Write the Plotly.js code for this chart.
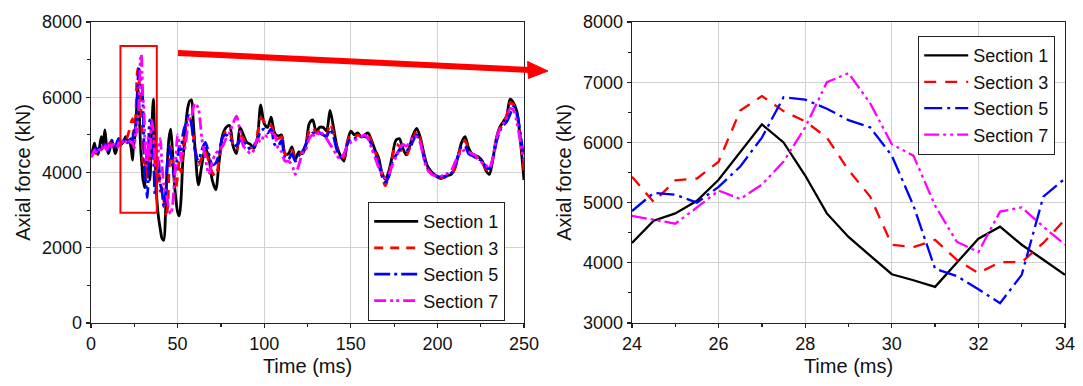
<!DOCTYPE html>
<html>
<head>
<meta charset="utf-8">
<script src="https://cdn.plot.ly/plotly-3.0.1.min.js"></script>
<style>
html,body{margin:0;padding:0;background:#fff;}
#chart{width:1083px;height:386px;}
</style>
</head>
<body>
<div id="chart"></div>
<script>
// ---------- DATA ----------
const seriesNames = ["Section 1", "Section 3", "Section 5", "Section 7"];

// 0-23 ms
const tPre = [0,1,2,3,4,5,6,7,8,9,10,11,12,13,14,15,16,17,18,19,20,21,22,23];
const s1Pre = [4450,4600,4780,4550,4480,4700,4950,4750,5130,4700,4500,4650,4860,4700,4500,4650,4900,4800,4770,4850,4950,4800,4850,4700];
const s3Pre = [4420,4480,4550,4500,4580,4650,4600,4700,4750,4650,4700,4800,4750,4700,4800,4850,4780,4750,4820,4900,4850,4950,5100,5300];
const s5Pre = [4500,4550,4600,4650,4550,4700,4650,4800,4700,4750,4600,4700,4850,4750,4700,4800,4900,4750,4800,4850,4900,4800,4850,4900];
const s7Pre = [4400,4500,4600,4550,4650,4600,4700,4650,4750,4600,4700,4800,4650,4750,4700,4650,4800,4700,4850,4750,4800,4900,4850,4800];

// 24-34 ms (zoomed window)
const tZoom = [24,24.5,25,25.5,26,26.5,27,27.5,28,28.5,29,29.5,30,30.5,31,31.5,32,32.5,33,33.5,34];
const s1Zoom = [4330,4700,4820,5030,5380,5850,6300,6000,5450,4820,4430,4120,3810,3710,3600,4000,4400,4600,4300,4050,3800];
const s3Zoom = [5430,5010,5370,5400,5680,6530,6770,6520,6350,6080,5540,5100,4300,4260,4380,4050,3830,4010,4010,4330,4720];
const s5Zoom = [4860,5160,5130,5000,5260,5600,6080,6750,6710,6560,6370,6250,5780,4950,3900,3780,3560,3330,3800,5100,5400];
const s7Zoom = [4780,4720,4650,4920,5200,5060,5300,5680,6250,7000,7150,6650,5970,5780,4950,4350,4180,4850,4920,4600,4300];

// 35-250 ms
const tPost = [35,36,37,38,39,40,41,42,43,44,45,46,47,48,49,50,51,52,53,54,55,56,57,58,59,60,
  62,64,66,68,70,72,74,76,78,80,
  82,84,86,88,90,92,94,96,98,100,
  102,104,106,108,110,112,114,116,118,120,
  122,124,126,128,130,132,134,136,138,140,
  142,144,146,148,150,152,154,156,158,160,
  162,164,166,168,170,172,174,176,178,180,
  182,184,186,188,190,192,194,196,198,200,
  202,204,206,208,210,212,214,216,218,220,
  222,224,226,228,230,232,234,236,238,240,
  242,244,246,248,250];
const s1Post = [5000,5950,4500,3300,2800,2500,2250,2200,2900,4200,4900,5150,4600,3800,3300,2950,2850,3300,4300,4800,5400,5750,5900,5930,5400,4700,
  3670,4200,4650,4400,3800,3540,4300,5000,5200,5250,
  4700,4500,5200,5000,4800,4750,4640,4900,5800,5300,
  5200,5470,5050,4970,5000,4500,4500,4680,4350,4550,
  4500,4700,5300,5400,5100,5200,5200,5100,5650,5200,
  4700,4450,4300,4800,5100,5000,5050,4950,5000,5050,
  4850,4600,4400,4000,3820,4050,4450,4850,4900,4650,
  4470,4700,5000,5170,4950,4550,4200,4050,3950,3880,
  3840,3870,3920,3950,4100,4450,4800,4950,4650,4500,
  4450,4400,4300,4050,3950,4350,4900,5200,5350,5500,
  5950,5850,5600,4800,3800];
const s3Post = [5200,5000,4200,3700,4300,3500,3600,3300,2900,3000,4000,4700,4400,3900,3600,3900,4300,4000,4600,5000,5300,5500,5450,5300,5000,4700,
  4200,4400,4550,4300,4000,3900,4350,4900,5100,5050,
  4750,4600,5000,4900,4700,4650,4700,5000,5450,5350,
  5200,5250,5000,4900,4950,4500,4450,4600,4400,4500,
  4550,4700,5100,5200,5050,5100,5100,5000,5300,5050,
  4650,4450,4400,4800,5000,4950,5000,4950,4950,5000,
  4800,4550,4300,3900,3650,3950,4400,4750,4700,4500,
  4450,4650,4900,5100,4900,4500,4150,4000,3920,3870,
  3850,3880,3920,3950,4100,4400,4750,4850,4600,4500,
  4400,4350,4250,4100,4050,4350,4850,5150,5300,5500,
  5850,5800,5500,4900,4050];
const s5Post = [5300,4600,3400,3800,4300,3700,3500,3100,3400,4200,4700,4500,4200,3900,4200,4400,4700,4600,5000,5200,5300,5500,5500,5300,4900,4600,
  4300,4600,4800,4500,4200,4250,4500,4950,5000,4900,
  4800,4700,4850,4800,4750,4600,4700,4850,5100,5150,
  5050,5150,4750,4700,4850,4400,4350,4500,4300,4450,
  4550,4750,4950,5050,5000,5050,5000,4950,5150,4950,
  4600,4400,4450,4750,4900,4900,4950,4950,4950,4900,
  4750,4500,4250,3900,3750,3900,4300,4450,4600,4700,
  4600,4650,4850,5000,4850,4450,4150,4050,3950,3900,
  3880,3900,3930,3980,4150,4450,4700,4700,4500,4450,
  4400,4350,4300,4150,4100,4350,4800,5100,5250,5350,
  5550,5750,5550,5000,4300];
const s7Post = [5400,5100,4300,4000,4600,4900,4200,3700,3500,3300,3000,2900,3100,3700,4400,5000,4800,4300,4500,4600,4900,5300,5500,5500,5700,5850,
  5700,4900,4400,3950,4300,4500,4600,4700,4900,5050,
  5300,5500,5100,4700,4600,4500,4600,4900,4800,5000,
  4950,5050,5000,4650,4550,4300,4300,4200,3950,4200,
  4500,4600,4900,5000,4950,5100,5000,4900,4750,4600,
  4450,4350,4500,4700,4800,4850,4900,4950,5000,4900,
  4650,4400,4150,4000,3850,3950,4200,4400,4600,4750,
  4700,4800,4950,4950,4800,4400,4100,3980,3920,3900,
  3900,3950,3980,4050,4250,4450,4550,4600,4550,4500,
  4450,4350,4250,4200,4100,4400,4900,5150,5300,5450,
  5700,5650,5300,4800,4300];

const xTicksLeft = [0,50,100,150,200,250];
const yTicksLeft = [0,2000,4000,6000,8000];
const xTicksRight = [24,26,28,30,32,34];
const yTicksRight = [3000,4000,5000,6000,7000,8000];

// ---------- BUILD ----------
const tLeft = tPre.concat(tZoom, tPost);
const leftSeries = [s1Pre.concat(s1Zoom, s1Post), s3Pre.concat(s3Zoom, s3Post), s5Pre.concat(s5Zoom, s5Post), s7Pre.concat(s7Zoom, s7Post)];
const rightSeries = [s1Zoom, s3Zoom, s5Zoom, s7Zoom];

const colors = ["#000000", "#ff0000", "#0000ff", "#ff00ff"];
const dashesL = ["solid", "9px,7px", "16px,4px,3px,4px", "12px,4px,3px,3px,3px,4px"];
const dashesR = ["solid", "12px,9px", "18px,5px,3px,5px", "15px,4px,3px,4px,3px,4px"];

const traces = [];
leftSeries.forEach((s, i) => {
  traces.push({x: tLeft, y: s, type: "scatter", mode: "lines", name: seriesNames[i],
    xaxis: "x", yaxis: "y", legend: "legend",
    line: {color: colors[i], width: 2.8, dash: dashesL[i], shape: "spline", smoothing: 0.8}});
});
rightSeries.forEach((s, i) => {
  traces.push({x: tZoom, y: s, type: "scatter", mode: "lines", name: seriesNames[i],
    xaxis: "x2", yaxis: "y2", legend: "legend2",
    line: {color: colors[i], width: 2.3, dash: dashesR[i]}});
});

const W = 1083, H = 386;
const px = v => v / W;
const py = v => (H - v) / H;

const FONT = "Liberation Sans, Arial, sans-serif";
const axLine = "#222";
const grid = "#d2d2d2";

function mainX(domain, range, ticks, minorD, title) {
  return {domain: domain, range: range, tickvals: ticks, ticks: "outside", ticklen: 4, tickwidth: 1.2, tickcolor: axLine,
    showline: true, linecolor: axLine, linewidth: 1.4, mirror: true, showgrid: true, gridcolor: grid, gridwidth: 1,
    zeroline: false, tickfont: {family: FONT, size: 18, color: "#111"},
    minor: {dtick: minorD, ticks: "outside", ticklen: 3, tickcolor: axLine, tickwidth: 1.2, showgrid: false},
    title: {text: title, font: {family: FONT, size: 20, color: "#111"}, standoff: 6}, fixedrange: true};
}
function overlay(over, side, anchor, range, ticks, minorD) {
  return {overlaying: over, side: side, anchor: anchor, range: range, tickvals: ticks, ticks: "inside", ticklen: 4,
    tickwidth: 1.2, tickcolor: axLine, showticklabels: false, showgrid: false, showline: false, zeroline: false,
    minor: {dtick: minorD, ticks: "inside", ticklen: 3, tickcolor: axLine, tickwidth: 1.2, showgrid: false}, fixedrange: true};
}

const dLx = [px(91), px(524)], dRx = [px(632), px(1065)], dY = [py(323), py(22)];

const layout = {
  width: W, height: H, margin: {l: 0, r: 0, t: 0, b: 0},
  paper_bgcolor: "#fff", plot_bgcolor: "#fff", showlegend: true,
  font: {family: FONT, color: "#111"},
  xaxis: Object.assign(mainX(dLx, [0, 250], xTicksLeft, 25, "Time (ms)"), {anchor: "y"}),
  yaxis: Object.assign(mainX(dY, [0, 8000], yTicksLeft, 1000, "Axial force (kN)"), {anchor: "x"}),
  xaxis2: Object.assign(mainX(dRx, [24, 34], xTicksRight, 1, "Time (ms)"), {anchor: "y2"}),
  yaxis2: Object.assign(mainX(dY, [3000, 8000], yTicksRight, 500, "Axial force (kN)"), {anchor: "x2"}),
  xaxis3: overlay("x", "top", "y", [0, 250], xTicksLeft, 25),
  yaxis3: overlay("y", "right", "x", [0, 8000], yTicksLeft, 1000),
  xaxis4: overlay("x2", "top", "y2", [24, 34], xTicksRight, 1),
  yaxis4: overlay("y2", "right", "x2", [3000, 8000], yTicksRight, 500),
  legend: {x: px(368), y: py(202), xanchor: "left", yanchor: "top", bgcolor: "#fff", bordercolor: "#222", borderwidth: 1.2,
    font: {family: FONT, size: 18, color: "#111"}, itemwidth: 44, tracegroupgap: 0},
  legend2: {x: px(918), y: py(36), xanchor: "left", yanchor: "top", bgcolor: "#fff", bordercolor: "#222", borderwidth: 1.2,
    font: {family: FONT, size: 18, color: "#111"}, itemwidth: 44, tracegroupgap: 0},
  shapes: [
    {type: "rect", xref: "x", yref: "y", x0: 17, x1: 38, y0: 2930, y1: 7360, line: {color: "#ff0000", width: 2}},
    {type: "line", xref: "paper", yref: "paper", x0: px(178), y0: py(53), x1: px(531), y1: py(70), line: {color: "#ff0000", width: 6}},
    {type: "path", xref: "paper", yref: "paper",
     path: "M" + px(548) + "," + py(71) + " L" + px(527.6) + "," + py(61.5) + " L" + px(528.4) + "," + py(78.5) + " Z",
     fillcolor: "#ff0000", line: {color: "#ff0000", width: 1}}
  ]
};

Plotly.newPlot("chart", traces, layout, {displayModeBar: false, staticPlot: true});
</script>
</body>
</html>
